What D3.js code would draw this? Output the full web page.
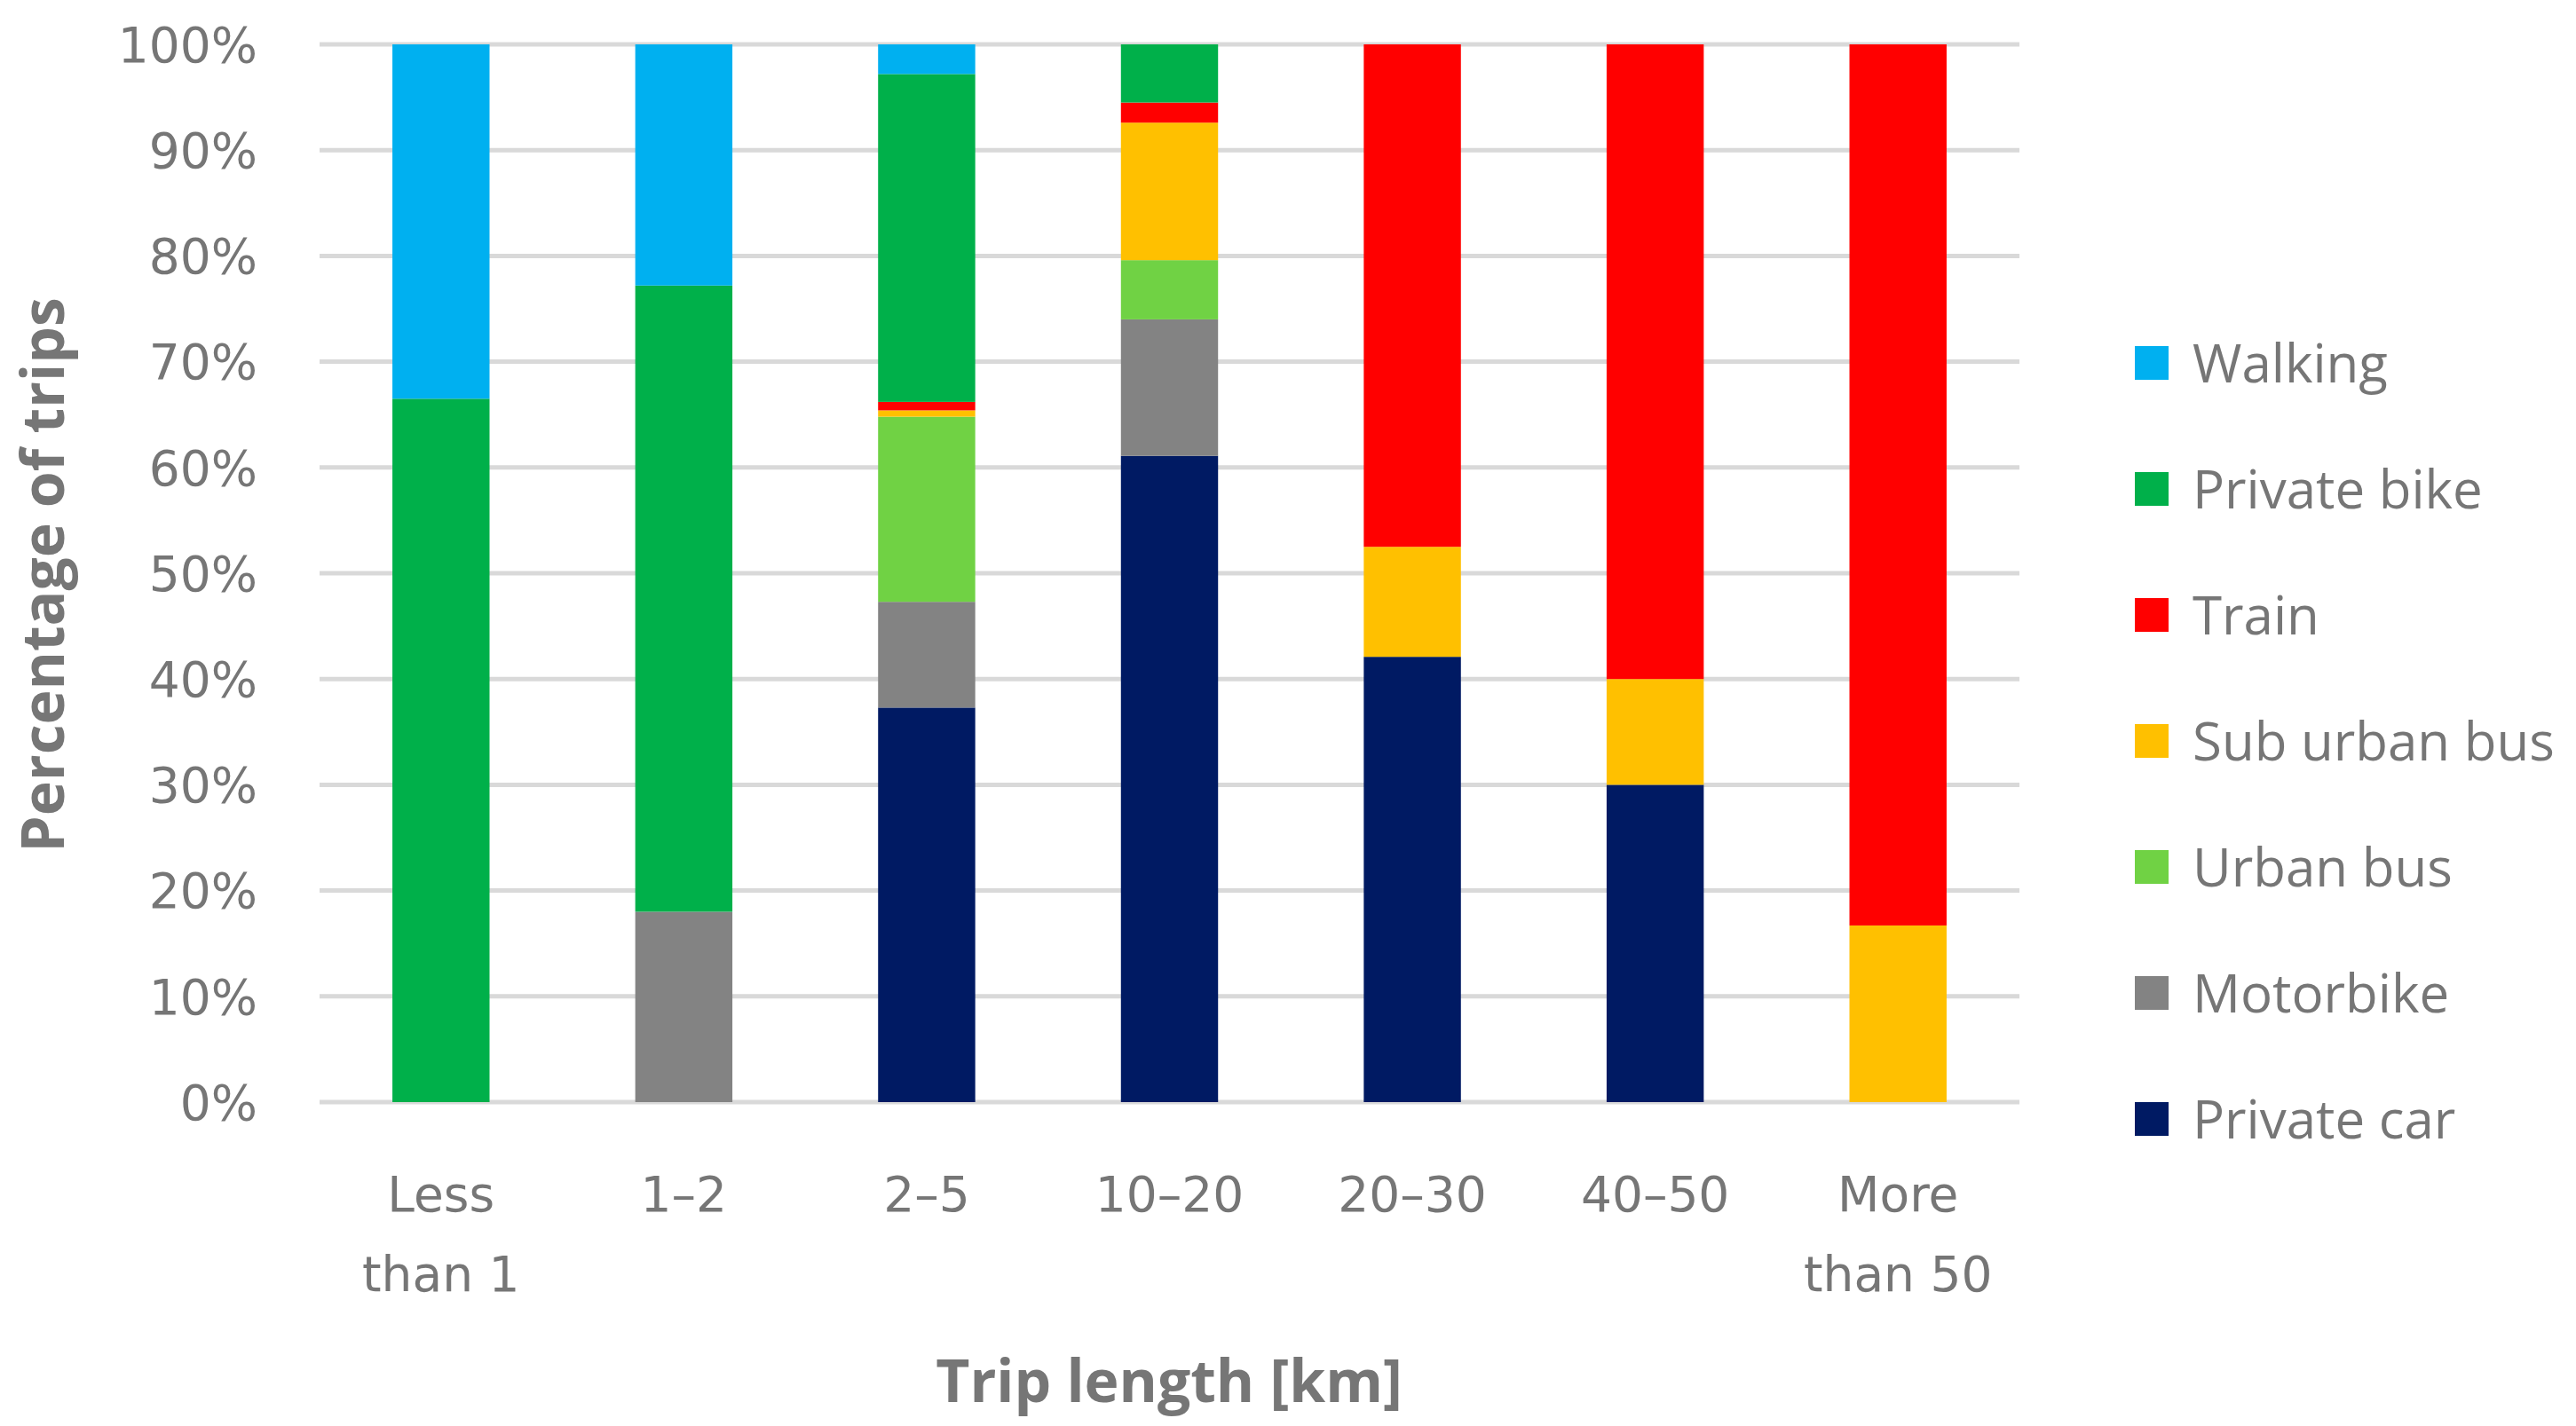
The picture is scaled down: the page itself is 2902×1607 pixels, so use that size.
<!DOCTYPE html>
<html lang="en">
<head>
<meta charset="UTF-8">
<title>Trip length mode share</title>
<style>
  body { margin: 0; background: #fff; }
  svg { display: block; }
</style>
<script src="https://d3js.org/d3.v7.min.js"></script>
</head>
<body>
<svg id="chart" width="2902" height="1607"></svg>
<script>
// categories (x axis) and modes (stack order, bottom to top)
const categories = ["Less than 1", "1–2", "2–5", "10–20", "20–30", "40–50", "More than 50"];
const modes = ["Private car", "Motorbike", "Urban bus", "Sub urban bus", "Train", "Private bike", "Walking"];
const colors = ["#001A63", "#838383", "#70D244", "#FFC000", "#FF0000", "#00B04A", "#00B0F0"];

// percentage of trips per mode, one value per category
const privateCar  = [0,    0,    37.3, 61.1, 42.1, 30,  0];
const motorbike   = [0,    18,   10,   12.9, 0,    0,   0];
const urbanBus    = [0,    0,    17.5, 5.6,  0,    0,   0];
const suburbanBus = [0,    0,    0.6,  13,   10.4, 10,  16.7];
const train       = [0,    0,    0.8,  1.9,  47.5, 60,  83.3];
const privateBike = [66.5, 59.2, 31,   5.5,  0,    0,   0];
const walking     = [33.5, 22.8, 2.8,  0,    0,    0,   0];

const yTicks = [0, 10, 20, 30, 40, 50, 60, 70, 80, 90, 100];

const series = [privateCar, motorbike, urbanBus, suburbanBus, train, privateBike, walking];
const rows = categories.map((c, i) => {
    const r = { cat: c };
    modes.forEach((m, j) => r[m] = series[j][i]);
    return r;
});

const svg = d3.select("#chart");
const grey = "#767676";
const plotLeft = 360, plotRight = 2275, plotTop = 50, plotBottom = 1242;

const x = d3.scaleBand().domain(categories).range([plotLeft, plotRight]).paddingInner(0.6).paddingOuter(0.3);
const y = d3.scaleLinear().domain([0, 100]).range([plotBottom, plotTop]);

// gridlines
svg.append("g").selectAll("line").data(yTicks).join("line")
    .attr("x1", plotLeft).attr("x2", plotRight)
    .attr("y1", d => y(d)).attr("y2", d => y(d))
    .attr("stroke", "#D9D9D9").attr("stroke-width", 5);

// y tick labels
svg.append("g").selectAll("text").data(yTicks).join("text")
    .attr("x", 290).attr("y", d => y(d))
    .attr("dy", "0.36em").attr("text-anchor", "end")
    .attr("font-family", "DejaVu Sans").attr("font-size", 55).attr("fill", grey)
    .text(d => d + "%");

// stacked bars
const stacked = d3.stack().keys(modes)(rows);
svg.append("g").selectAll("g").data(stacked).join("g")
    .attr("fill", (d, i) => colors[i])
    .selectAll("rect").data(d => d).join("rect")
    .attr("x", d => x(d.data.cat))
    .attr("width", x.bandwidth())
    .attr("y", d => y(d[1]))
    .attr("height", d => y(d[0]) - y(d[1]));

// x labels (wrapped)
const xl = svg.append("g").selectAll("text").data(categories).join("text")
    .attr("text-anchor", "middle")
    .attr("font-family", "DejaVu Sans").attr("font-size", 55).attr("fill", grey);
xl.each(function (d) {
    const words = d.includes(" ") ? [d.split(" ")[0], d.split(" ").slice(1).join(" ")] : [d];
    d3.select(this).selectAll("tspan").data(words).join("tspan")
        .attr("x", x(d) + x.bandwidth() / 2)
        .attr("y", (w, i) => 1365 + i * 90)
        .text(w => w);
});

// axis titles
svg.append("text")
    .attr("x", 1317).attr("y", 1580).attr("text-anchor", "middle")
    .attr("font-family", "Open Sans").attr("font-weight", "bold").attr("font-size", 66).attr("fill", grey)
    .text("Trip length [km]");
svg.append("text")
    .attr("transform", "translate(72,648) rotate(-90)").attr("text-anchor", "middle")
    .attr("font-family", "Open Sans").attr("font-weight", "bold").attr("font-size", 66).attr("fill", grey)
    .text("Percentage of trips");

// legend (top to bottom reverses the stack)
const legendOrder = modes.map((m, i) => ({ m, c: colors[i] })).reverse();
const lg = svg.append("g").selectAll("g").data(legendOrder).join("g")
    .attr("transform", (d, i) => `translate(2405,${409 + i * 142})`);
lg.append("rect").attr("x", 0).attr("y", -19).attr("width", 38).attr("height", 38).attr("fill", d => d.c);
lg.append("text").attr("x", 65).attr("dy", "0.36em")
    .attr("font-family", "Open Sans").attr("font-size", 60).attr("fill", grey)
    .text(d => d.m);
</script>
</body>
</html>
